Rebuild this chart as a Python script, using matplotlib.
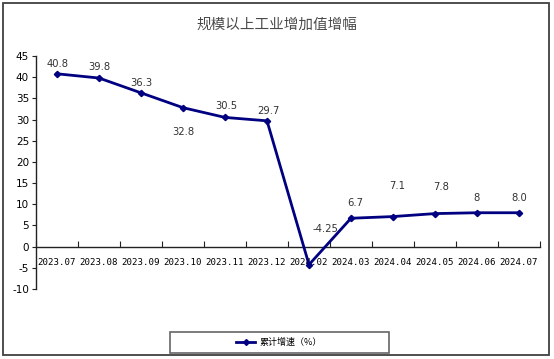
import matplotlib
matplotlib.use("Agg")
import matplotlib.pyplot as plt
from matplotlib.patches import Rectangle
from matplotlib.lines import Line2D

plt.rcParams['font.family'] = ['Noto Sans CJK SC', 'DejaVu Sans']

months = ["2023.07", "2023.08", "2023.09", "2023.10", "2023.11", "2023.12",
          "2024.02", "2024.03", "2024.04", "2024.05", "2024.06", "2024.07"]
growth = [40.8, 39.8, 36.3, 32.8, 30.5, 29.7, -4.25, 6.7, 7.1, 7.8, 8.0, 8.0]
value_labels = ["40.8", "39.8", "36.3", "32.8", "30.5", "29.7",
                "-4.25", "6.7", "7.1", "7.8", "8", "8.0"]
y_ticks = list(range(-10, 50, 5))

# label offsets in pixels (dx, dy) relative to each point
offsets = [(1, 10), (0, 11), (0, 10), (0, -24), (1, 11), (1, 10),
           (16, 36), (4, 15), (4, 31), (6, 27), (0, 15), (0, 15)]

W, H = 554, 359
fig = plt.figure(figsize=(W / 100, H / 100), dpi=100)

# outer frame
fig.patches.append(Rectangle((3 / W, 4 / H), 546 / W, 352 / H, transform=fig.transFigure,
                             fill=False, edgecolor="#404040", linewidth=1.3))

ax = fig.add_axes([36 / W, (H - 289) / H, 504 / W, 233 / H])
ax.set_facecolor("none")
x = list(range(len(months)))
ax.plot(x, growth, color="#000080", linewidth=2, marker="D", markersize=3.2,
        markerfacecolor="#000080", markeredgecolor="#000080", zorder=3)

for xi, yi, lab, (dx, dy) in zip(x, growth, value_labels, offsets):
    ax.annotate(lab, (xi, yi), xytext=(dx, dy), textcoords="offset pixels",
                ha="center", va="center", fontsize=7.2, color="#333333",
                family=["DejaVu Sans"])

ax.set_xlim(-0.5, len(months) - 0.5)
ax.set_ylim(-10, 45)
ax.set_yticks(y_ticks)
ax.set_yticklabels([str(v) for v in y_ticks], fontsize=7.5, family=["DejaVu Sans"])

for s in ["top", "right"]:
    ax.spines[s].set_visible(False)
ax.spines["bottom"].set_position(("data", 0))
ax.spines["bottom"].set_color("#222222")
ax.spines["left"].set_color("#222222")
ax.spines["bottom"].set_linewidth(1)
ax.spines["left"].set_linewidth(1)

ax.set_xticks([i - 0.5 for i in range(len(months) + 1)])
ax.set_xticklabels([])
ax.set_xticks(x, minor=True)
ax.set_xticklabels(months, minor=True, fontsize=6.6, family=["DejaVu Sans Mono"])
ax.tick_params(axis="x", which="major", direction="in", length=4, color="#222222")
ax.tick_params(axis="x", which="minor", length=0, pad=8)
ax.tick_params(axis="y", direction="out", length=3, pad=2, color="#222222")

# legend with a wide plain frame like the reference
fig.patches.append(Rectangle((170 / W, (H - 353) / H), 219 / W, 21 / H, transform=fig.transFigure,
                             fill=False, edgecolor="#666666", linewidth=1.2))
handle = Line2D([], [], color="#000080", linewidth=2, marker="D", markersize=3)
fig.legend([handle], ["累计增速（%）"], loc="center",
           bbox_to_anchor=(279 / W, (H - 342.5) / H), fontsize=6.5,
           frameon=False, handlelength=2.2, handletextpad=0.5, borderpad=0)

fig.text(277 / W, (H - 25) / H, "规模以上工业增加值增幅", ha="center", va="center",
         fontsize=10.5, color="#4a4a4a")

fig.savefig("out.png", dpi=100)
